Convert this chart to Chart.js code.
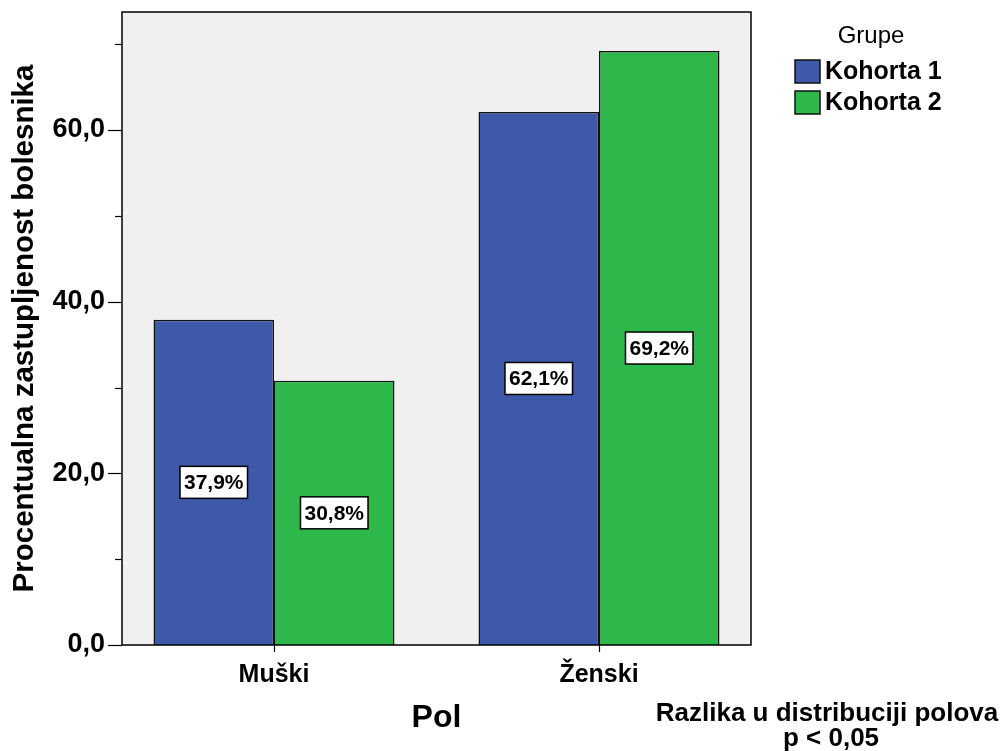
<!DOCTYPE html>
<html>
<head>
<meta charset="utf-8">
<script src="https://cdn.jsdelivr.net/npm/chart.js@4.4.1/dist/chart.umd.min.js"></script>
<style>
html,body{margin:0;padding:0;background:#fff;}
#c{display:block;}
</style>
</head>
<body>
<canvas id="c" width="1003" height="751"></canvas>
<script>
const categories = ['Muški', 'Ženski'];
const seriesNames = ['Kohorta 1', 'Kohorta 2'];
const kohorta1 = [37.9, 62.1];
const kohorta2 = [30.8, 69.2];
const majorTicks = [0, 20, 40, 60];
const minorTicks = [10, 30, 50, 70];
const yTitle = 'Procentualna zastupljenost bolesnika';
const xTitle = 'Pol';
const legendTitle = 'Grupe';
const noteLines = ['Razlika u distribuciji polova', 'p < 0,05'];

const BLUE = '#3E58AA';
const GREEN = '#2EB84C';
const fmt = v => v.toFixed(1).replace('.', ',');
const toPoints = arr => arr.map((v, i) => ({x: i, y: v}));

const bgPlugin = {
  id: 'bg',
  beforeDraw(chart) {
    const {ctx, chartArea: a} = chart;
    ctx.save();
    ctx.fillStyle = '#F0F0F0';
    ctx.fillRect(a.left, a.top, a.right - a.left, a.bottom - a.top);
    ctx.restore();
  },
  afterDraw(chart) {
    const {ctx, chartArea: a} = chart;
    const y = chart.scales.y;
    ctx.save();
    ctx.strokeStyle = '#000';
    ctx.lineWidth = 1.5;
    ctx.strokeRect(a.left, a.top, a.right - a.left, a.bottom - a.top);
    ctx.lineWidth = 1.2;
    majorTicks.forEach(v => {
      const py = Math.round(y.getPixelForValue(v)) + 0.5;
      ctx.beginPath(); ctx.moveTo(a.left - 14, py); ctx.lineTo(a.left, py); ctx.stroke();
    });
    minorTicks.forEach(v => {
      const py = Math.round(y.getPixelForValue(v)) + 0.5;
      ctx.beginPath(); ctx.moveTo(a.left - 7, py); ctx.lineTo(a.left, py); ctx.stroke();
    });
    const x = chart.scales.x;
    categories.forEach((c, i) => {
      const px = Math.round(x.getPixelForValue(i)) + 0.5;
      ctx.beginPath(); ctx.moveTo(px, a.bottom); ctx.lineTo(px, a.bottom + 7); ctx.stroke();
    });
    // legend
    ctx.fillStyle = '#000';
    ctx.font = '24px "Liberation Sans", Arial, sans-serif';
    ctx.textAlign = 'center';
    ctx.textBaseline = 'middle';
    ctx.fillText(legendTitle, 871, 36);
    chart.data.datasets.forEach((ds, i) => {
      const top = 60 + i * 31;
      ctx.fillStyle = ds.backgroundColor;
      ctx.fillRect(795, top, 25, 23);
      ctx.strokeStyle = '#111';
      ctx.lineWidth = 1.5;
      ctx.strokeRect(795, top, 25, 23);
      ctx.fillStyle = '#000';
      ctx.font = 'bold 25px "Liberation Sans", Arial, sans-serif';
      ctx.textAlign = 'left';
      ctx.fillText(ds.label, 825, top + 12.5);
    });
    ctx.font = 'bold 26px "Liberation Sans", Arial, sans-serif';
    ctx.textAlign = 'center';
    ctx.fillText(noteLines[0], 827, 714);
    ctx.fillText(noteLines[1], 831, 739);
    ctx.restore();
  }
};

const labelPlugin = {
  id: 'labels',
  afterDatasetsDraw(chart) {
    const {ctx} = chart;
    ctx.save();
    ctx.font = 'bold 21px "Liberation Sans", Arial, sans-serif';
    ctx.textAlign = 'center';
    ctx.textBaseline = 'middle';
    chart.data.datasets.forEach((ds, di) => {
      chart.getDatasetMeta(di).data.forEach((bar, i) => {
        const txt = fmt(ds.data[i].y) + '%';
        const cx = bar.x;
        const cy = (bar.y + bar.base) / 2;
        const w = ctx.measureText(txt).width + 8;
        const h = 32;
        ctx.fillStyle = '#fff';
        ctx.fillRect(cx - w / 2, cy - h / 2, w, h);
        ctx.strokeStyle = '#000';
        ctx.lineWidth = 1.5;
        ctx.strokeRect(cx - w / 2, cy - h / 2, w, h);
        ctx.fillStyle = '#000';
        ctx.fillText(txt, cx, cy + 1);
      });
    });
    ctx.restore();
  }
};

new Chart(document.getElementById('c'), {
  type: 'bar',
  data: {
    datasets: [
      {label: seriesNames[0], data: toPoints(kohorta1), backgroundColor: BLUE, borderColor: '#111', borderWidth: 1.5, borderSkipped: 'bottom'},
      {label: seriesNames[1], data: toPoints(kohorta2), backgroundColor: GREEN, borderColor: '#111', borderWidth: 1.5, borderSkipped: 'bottom'}
    ]
  },
  options: {
    responsive: false,
    devicePixelRatio: 1,
    animation: false,
    layout: {padding: {top: 12, right: 252, left: 0, bottom: 0}},
    datasets: {bar: {categoryPercentage: 0.7415, barPercentage: 1}},
    plugins: {legend: {display: false}, tooltip: {enabled: false}},
    scales: {
      x: {
        type: 'linear',
        min: -0.4677,
        max: 1.4677,
        offset: false,
        afterFit: s => { s.height = 106; s.paddingLeft = 0; s.paddingRight = 0; },
        afterBuildTicks: s => { s.ticks = categories.map((c, i) => ({value: i})); },
        grid: {display: false, drawTicks: false},
        border: {display: false},
        ticks: {color: '#000', font: {family: '"Liberation Sans", Arial', weight: 'bold', size: 25}, padding: 15, callback: v => categories[v]},
        title: {display: true, text: xTitle, color: '#000', font: {family: '"Liberation Sans", Arial', weight: 'bold', size: 32}, padding: {top: 0, bottom: 14}}
      },
      y: {
        min: 0,
        max: 73.75,
        afterFit: s => { s.width = 122; s.paddingTop = 0; s.paddingBottom = 0; },
        afterBuildTicks: s => { s.ticks = majorTicks.map(v => ({value: v})); },
        grid: {display: false, drawTicks: false},
        border: {display: false},
        ticks: {color: '#000', font: {family: '"Liberation Sans", Arial', weight: 'bold', size: 27}, padding: 17, callback: v => fmt(v)},
        title: {display: true, text: yTitle, color: '#000', font: {family: '"Liberation Sans", Arial', weight: 'bold', size: 29.5}, padding: {top: 7, bottom: 0}}
      }
    }
  },
  plugins: [bgPlugin, labelPlugin]
});
</script>
</body>
</html>
